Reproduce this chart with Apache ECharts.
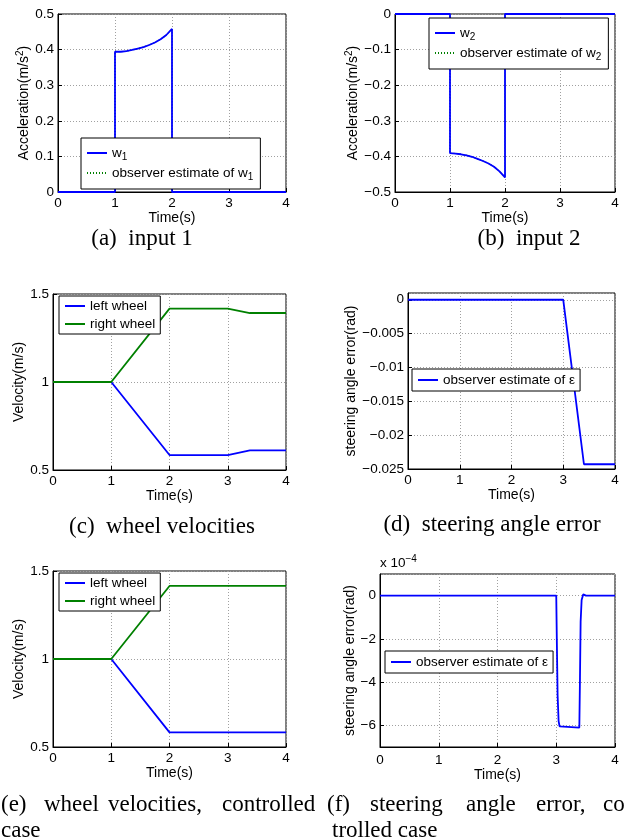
<!DOCTYPE html>
<html><head><meta charset="utf-8">
<script src="https://cdn.jsdelivr.net/npm/echarts@6/dist/echarts.min.js"></script>
<style>html,body{margin:0;padding:0;background:#fff}#c{width:624px;height:839px}</style>
</head><body><div id="c"></div>
<script>
// ---------- data ----------
const timeTicks = [0, 1, 2, 3, 4];
// (a) input 1
const timeA = [0, 1, 1, 1.1, 1.2, 1.3, 1.4, 1.5, 1.6, 1.7, 1.8, 1.9, 2, 2, 4];
const w1 = [0, 0, 0.394, 0.394, 0.396, 0.399, 0.403, 0.407, 0.413, 0.420, 0.429, 0.441, 0.458, 0, 0];
const w1Est = [0, 0, 0.394, 0.394, 0.396, 0.399, 0.403, 0.407, 0.413, 0.420, 0.429, 0.441, 0.458, 0, 0];
// (b) input 2
const timeB = [0, 1, 1, 1.1, 1.2, 1.3, 1.4, 1.5, 1.6, 1.7, 1.8, 1.9, 2, 2, 4];
const w2 = [0, 0, -0.391, -0.392, -0.394, -0.397, -0.401, -0.407, -0.413, -0.420, -0.429, -0.442, -0.459, 0, 0];
const w2Est = [0, 0, -0.391, -0.392, -0.394, -0.397, -0.401, -0.407, -0.413, -0.420, -0.429, -0.442, -0.459, 0, 0];
// (c) wheel velocities
const timeC = [0, 1, 2, 3, 3.38, 4];
const leftC = [1, 1, 0.585, 0.585, 0.612, 0.612];
const rightC = [1, 1, 1.417, 1.417, 1.392, 1.392];
// (d) steering angle error
const timeD = [0, 3, 3.4, 4];
const epsD = [0, 0, -0.0243, -0.0243];
// (e) wheel velocities, controlled
const timeE = [0, 1, 2, 4];
const leftE = [1, 1, 0.583, 0.583];
const rightE = [1, 1, 1.415, 1.415];
// (f) steering angle error, controlled (units of 1e-4 rad)
const timeF = [0, 3, 3.011, 3.023, 3.04, 3.057, 3.085, 3.393, 3.404, 3.415, 3.432, 3.46, 3.506, 4];
const epsF = [0, 0, -2.3, -4.6, -5.8, -6.05, -6.1, -6.1, -3.8, -1.2, -0.2, 0.06, 0, 0];

// y axis ranges [min, max, interval]
const yRangeA = [0, 0.5, 0.1];
const yRangeB = [-0.5, 0, 0.1];
const yRangeC = [0.5, 1.5, 0.5];
const yRangeD = [-0.025, 0.001, 0.005];
const yRangeE = [0.5, 1.5, 0.5];
const yRangeF = [-7, 1];

// ---------- styling ----------
const SANS = 'Liberation Sans';
const SERIF = 'Liberation Serif';
const BLUE = '#0000ff', GREEN = '#008000';
const pair = (xs, ys) => xs.map((x, i) => [x, ys[i]]);
const fmt = v => String(v).replace('-', '\u2212');

const grids = [
  {left: 58, top: 14, width: 228, height: 178},
  {left: 395, top: 14, width: 220, height: 178},
  {left: 53, top: 294, width: 233, height: 176},
  {left: 408, top: 293, width: 207, height: 176},
  {left: 53, top: 571, width: 233, height: 176},
  {left: 380, top: 574, width: 235, height: 173}
].map(g => Object.assign(g, {show: true, borderColor: '#000', borderWidth: 1, backgroundColor: '#fff'}));

const nameStyle = {fontFamily: SANS, fontSize: 14, color: '#000',
  rich: {s: {fontFamily: SANS, fontSize: 10, color: '#000', padding: [0, 0, 8, 0]}}};
const split = {show: true, lineStyle: {type: [1, 2], color: '#a0a0a0', width: 1}};
const line = {show: true, onZero: false, lineStyle: {color: '#000', width: 1}};
const tick = {show: true, inside: true, length: 4, lineStyle: {color: '#000'}};
const label = (m) => ({fontFamily: SANS, fontSize: 13.5, color: '#000', margin: m, formatter: fmt, showMaxLabel: true, showMinLabel: true});

const xGaps = [17, 17, 18, 16, 18, 18];
const xLabelM = [4, 4, 4, 4, 4, 6];
const xAxis = grids.map((g, i) => ({
  type: 'value', gridIndex: i, min: timeTicks[0], max: timeTicks[timeTicks.length - 1], interval: 1,
  name: 'Time(s)', nameLocation: 'middle', nameGap: xGaps[i], nameTextStyle: nameStyle,
  axisLine: line, axisTick: tick, axisLabel: label(xLabelM[i]), splitLine: split
}));

function yAx(i, r, name, gap, extra) {
  const a = {
    type: 'value', gridIndex: i, min: r[0], max: r[1],
    name: name, nameLocation: 'middle', nameGap: gap, nameTextStyle: nameStyle,
    axisLine: line, axisTick: tick, axisLabel: label(4), splitLine: split
  };
  if (r[2] !== undefined) a.interval = r[2];
  return Object.assign(a, extra || {});
}
const accName = 'Acceleration(m/s{s|2})';
const yAxis = [
  yAx(0, yRangeA, accName, 17),
  yAx(1, yRangeB, accName, 27),
  yAx(2, yRangeC, 'Velocity(m/s)', 27),
  yAx(3, yRangeD, 'steering angle error(rad)', 49),
  yAx(4, yRangeE, 'Velocity(m/s)', 27),
  yAx(5, yRangeF, 'steering angle error(rad)', 21, {splitNumber: 4})
];
yAxis[3].axisLabel.showMaxLabel = false;
yAxis[5].axisLabel.showMaxLabel = false;
yAxis[5].axisLabel.showMinLabel = false;

function ser(name, gi, xs, ys, color, dotted) {
  return {
    name: name, type: 'line', xAxisIndex: gi, yAxisIndex: gi, data: pair(xs, ys),
    symbol: 'none', showSymbol: false, animation: false, silent: true,
    lineStyle: {color: color, width: dotted ? 1.2 : 1.8, type: dotted ? [1, 2] : 'solid'},
    itemStyle: {color: color}
  };
}
const series = [
  ser('observer estimate of w_1', 0, timeA, w1Est, GREEN, true),
  ser('w_1', 0, timeA, w1, BLUE),
  ser('observer estimate of w_2', 1, timeB, w2Est, GREEN, true),
  ser('w_2', 1, timeB, w2, BLUE),
  ser('left wheel', 2, timeC, leftC, BLUE),
  ser('right wheel', 2, timeC, rightC, GREEN),
  ser('observer estimate of \u03b5', 3, timeD, epsD, BLUE),
  ser('left wheel', 4, timeE, leftE, BLUE),
  ser('right wheel', 4, timeE, rightE, GREEN),
  ser('observer estimate of \u03b5', 5, timeF, epsF, BLUE)
];

const legendText = {fontFamily: SANS, fontSize: 13.5, color: '#000',
  rich: {s: {fontFamily: SANS, fontSize: 10, color: '#000', padding: [8, 0, 0, 0]}}};
function leg(data, left, top, pad, gap) {
  return {
    data: data, left: left, top: top, orient: 'vertical', selectedMode: false,
    backgroundColor: '#fff', borderColor: '#000', borderWidth: 1, padding: pad,
    itemWidth: 20, itemHeight: 12, itemGap: gap, textStyle: legendText,
    itemStyle: {opacity: 0},
    formatter: n => n.replace(/_(\w)/, '{s|$1}')
  };
}
const legend = [
  leg(['w_1', 'observer estimate of w_1'], 81, 138, [8, 7, 7, 5], 4),
  leg(['w_2', 'observer estimate of w_2'], 429, 18, [8, 7, 7, 5], 4),
  leg(['left wheel', 'right wheel'], 59, 296, [3, 5, 3, 5], 4),
  leg(['observer estimate of \u03b5'], 412, 369, [4, 5, 4, 5], 4),
  leg(['left wheel', 'right wheel'], 59, 573, [3, 5, 3, 5], 4),
  leg(['observer estimate of \u03b5'], 385, 651, [4, 5, 4, 5], 4)
];

function cap(text, x, y, align) {
  return {type: 'text', x: x, y: y, silent: true,
    style: {text: text, fontFamily: SERIF, fontSize: 23, fill: '#000', textAlign: align || 'center', textVerticalAlign: 'middle'}};
}
const graphic = [
  cap('(a)  input 1', 142, 239),
  cap('(b)  input 2', 529, 239),
  cap('(c)  wheel velocities', 162, 527),
  cap('(d)  steering angle error', 492, 525),
  cap('(e)', 1, 805, 'left'), cap('wheel', 44, 805, 'left'), cap('velocities,', 108, 805, 'left'), cap('controlled', 222, 805, 'left'),
  cap('(f)', 327, 805, 'left'), cap('steering', 370, 805, 'left'), cap('angle', 466, 805, 'left'), cap('error,', 536, 805, 'left'), cap('con-', 603, 805, 'left'),
  cap('case', 1, 831, 'left'),
  cap('trolled case', 332, 831, 'left'),
  {type: 'text', x: 380, y: 573, silent: true,
    style: {text: '{a|x 10}{s|\u22124}', textVerticalAlign: 'bottom', textAlign: 'left',
      rich: {a: {fontFamily: SANS, fontSize: 13.5, fill: '#000'}, s: {fontFamily: SANS, fontSize: 10, fill: '#000', padding: [0, 0, 9, 0]}}}}
];

const chart = echarts.init(document.getElementById('c'), null, {renderer: 'canvas'});
chart.setOption({
  animation: false, backgroundColor: '#fff',
  grid: grids, xAxis: xAxis, yAxis: yAxis, series: series, legend: legend, graphic: graphic
});
</script></body></html>
